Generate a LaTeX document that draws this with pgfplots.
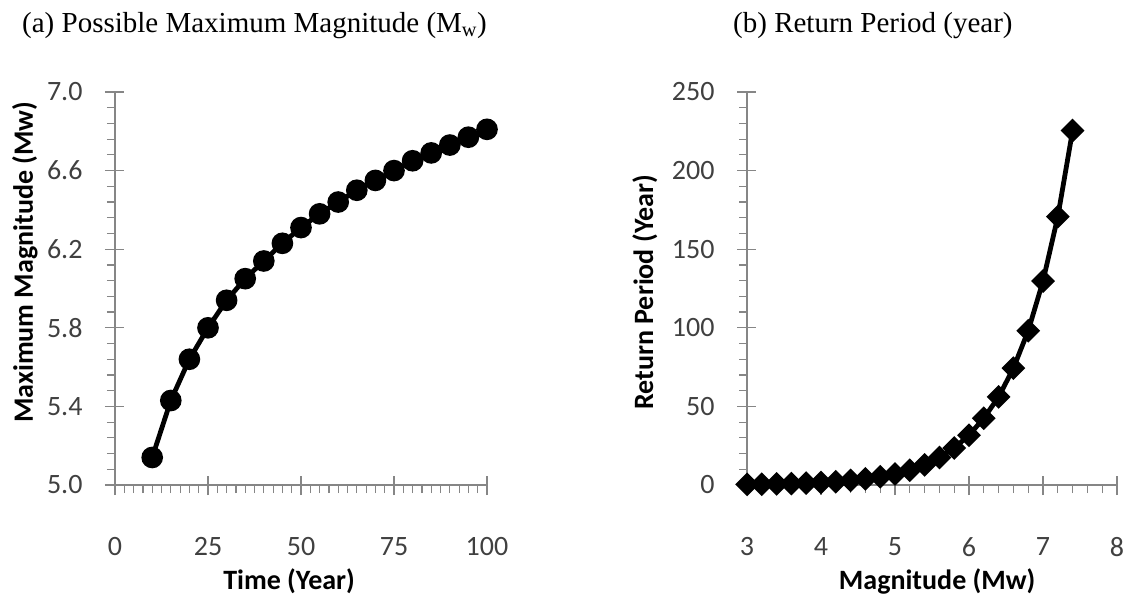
\documentclass[border=0pt]{standalone}
\usepackage{fontspec}
\setmainfont{Carlito}
\newfontfamily\titlefont{Liberation Serif}
\usepackage{pgfplots}
\pgfplotsset{compat=1.18}
\definecolor{axgray}{HTML}{868686}
\definecolor{tickgray}{HTML}{404040}

\pgfplotsset{
  base/.style={
    scale only axis, height=393pt, anchor=south west,
    axis x line*=bottom, axis y line*=left,
    axis line style={axgray, line width=1.2pt},
    every tick/.style={axgray, line width=1.2pt},
    tick align=outside,
    major tick length=10pt, minor tick length=8pt,
    tick label style={font=\fontsize{28}{30}\selectfont, text=tickgray},
    label style={font=\fontsize{28}{30}\selectfont\bfseries, text=black, inner sep=0pt},
    /pgf/number format/assume math mode=true,
    /pgf/number format/1000 sep={},
    clip=false,
    yticklabel style={anchor=east, xshift=-19pt},
    xticklabel style={anchor=center, yshift=-52pt, inner sep=0pt},
  },
  over/.style={
    scale only axis, height=393pt, anchor=south west,
    axis x line*=bottom, axis y line*=left,
    axis line style={axgray, line width=1.2pt},
    every tick/.style={axgray, line width=1.2pt},
    tick align=inside, major tick length=9pt,
    minor tick num=0, xticklabels={}, yticklabels={},
  },
}

\pgfplotstableread{
x y
10 5.14
15 5.43
20 5.64
25 5.80
30 5.94
35 6.05
40 6.14
45 6.23
50 6.31
55 6.38
60 6.44
65 6.50
70 6.55
75 6.60
80 6.65
85 6.69
90 6.73
95 6.77
100 6.81
}\magtable

\pgfplotstableread{
x y
3.0 0.4
3.2 0.5
3.4 0.7
3.6 0.9
3.8 1.2
4.0 1.6
4.2 2.1
4.4 2.9
4.6 3.9
4.8 5.2
5.0 7.0
5.2 9.4
5.4 12.8
5.6 17.5
5.8 23.5
6.0 31.7
6.2 42.5
6.4 56.0
6.6 74.3
6.8 98.1
7.0 129.7
7.2 170.7
7.4 225.5
}\rptable

\begin{document}
\begin{tikzpicture}
\useasboundingbox (0,0) rectangle (1126pt,597pt);

\node[anchor=base west, inner sep=0pt] at (22pt,564pt) {\titlefont\fontsize{29}{32}\selectfont (a) Possible Maximum Magnitude (M\textsubscript{w})};
\node[anchor=base west, inner sep=0pt] at (733pt,564pt) {\titlefont\fontsize{29}{32}\selectfont (b) Return Period (year)};

% ---- left panel ----
\begin{axis}[over, at={(115pt,112pt)}, width=372pt,
  xmin=0, xmax=100, ymin=5, ymax=7,
  xtick={0,25,50,75,100}, ytick={5,5.4,5.8,6.2,6.6,7}]
\end{axis}
\begin{axis}[base, at={(115pt,112pt)}, width=372pt,
  xmin=0, xmax=100, ymin=5, ymax=7,
  xtick={0,25,50,75,100}, ytick={5,5.4,5.8,6.2,6.6,7},
  minor x tick num=9, minor y tick num=4,
  yticklabel style={/pgf/number format/fixed, /pgf/number format/fixed zerofill, /pgf/number format/precision=1},
  xlabel={Time (Year)}, ylabel={Maximum Magnitude (Mw)},
  xlabel style={at={(axis description cs:0.468,-0.267)}, anchor=base},
  ylabel style={at={(axis description cs:-0.242,0.567)}, anchor=center},
  ]
\addplot[black, line width=4.8pt, mark=*, mark size=8.4pt, mark options={solid, fill=black}] table[x=x,y=y] {\magtable};
\end{axis}

% ---- right panel ----
\begin{axis}[over, at={(747pt,112pt)}, width=370pt,
  xmin=3, xmax=8, ymin=0, ymax=250,
  xtick={3,4,5,6,7,8}, ytick={0,50,100,150,200,250}]
\end{axis}
\begin{axis}[base, at={(747pt,112pt)}, width=370pt,
  xmin=3, xmax=8, ymin=0, ymax=250,
  xtick={3,4,5,6,7,8}, ytick={0,50,100,150,200,250},
  minor x tick num=4, minor y tick num=4,
  xlabel={Magnitude (Mw)}, ylabel={Return Period (Year)},
  xlabel style={at={(axis description cs:0.514,-0.267)}, anchor=base},
  ylabel style={at={(axis description cs:-0.276,0.49)}, anchor=center},
  ]
\addplot[black, line width=4.8pt, mark=square*, mark size=6pt, mark options={solid, fill=black, rotate=45}] table[x=x,y=y] {\rptable};
\end{axis}
\end{tikzpicture}
\end{document}
